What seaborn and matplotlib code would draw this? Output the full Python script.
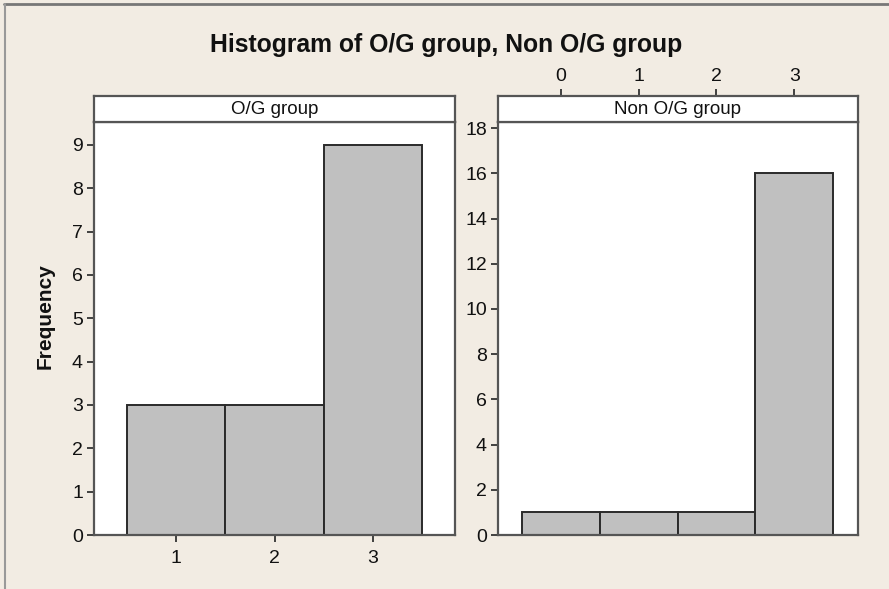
import matplotlib
matplotlib.use("Agg")
import matplotlib.pyplot as plt
import seaborn as sns
import numpy as np
import pandas as pd

# Observed scores for each group (one entry per subject)
og_scores = [1, 1, 1, 2, 2, 2, 3, 3, 3, 3, 3, 3, 3, 3, 3]
non_og_scores = [0, 1, 2] + [3] * 16

og_yticks = list(range(0, 10))
non_og_yticks = list(range(0, 19, 2))
og_xticks = [1, 2, 3]
non_og_xticks = [0, 1, 2, 3]

title = "Histogram of O/G group, Non O/G group"
panel_labels = ["O/G group", "Non O/G group"]

sns.set_theme(style="white")
plt.rcParams["font.family"] = ["Liberation Sans", "DejaVu Sans"]

BG = "#f2ece3"
BAR = "#c0c0c0"
EDGE = "#2a2a2a"
FRAME = "#555555"
TXT = "#111111"
FS = 14

W, H = 889, 589
fig = plt.figure(figsize=(W / 100, H / 100), dpi=100, facecolor=BG)


def box(x0, y0, x1, y1):
    return [x0 / W, 1 - y1 / H, (x1 - x0) / W, (y1 - y0) / H]


ax1 = fig.add_axes(box(94, 122, 455, 535))
ax2 = fig.add_axes(box(498, 122, 858, 535))
st1 = fig.add_axes(box(94, 96, 455, 122))
st2 = fig.add_axes(box(498, 96, 858, 122))

df1 = pd.DataFrame({"score": og_scores})
df2 = pd.DataFrame({"score": non_og_scores})

for ax, df in [(ax1, df1), (ax2, df2)]:
    sns.histplot(data=df, x="score", discrete=True, ax=ax, color=BAR,
                 edgecolor=EDGE, linewidth=1.4, alpha=1)
    ax.set_facecolor("white")
    ax.set_xlabel("")
    ax.set_ylabel("")
    for s in ax.spines.values():
        s.set_color(FRAME)
        s.set_linewidth(1.6)
    ax.tick_params(axis="both", which="both", left=True, bottom=True,
                   length=5, width=1.3, color="#333333", labelsize=FS,
                   labelcolor=TXT, direction="out", pad=3)

ax1.set_xlim(0.16, 3.84)
ax1.set_ylim(0, 9.53)
ax1.set_xticks(og_xticks)
ax1.set_yticks(og_yticks)
ax1.tick_params(axis="x", pad=6)

ax2.set_xlim(-0.81, 3.82)
ax2.set_ylim(0, 18.27)
ax2.set_yticks(non_og_yticks)
ax2.set_xticks([])

for st, lab, ref in [(st1, panel_labels[0], ax1), (st2, panel_labels[1], ax2)]:
    st.set_facecolor("white")
    st.set_xlim(ref.get_xlim())
    st.set_ylim(0, 1)
    st.set_yticks([])
    st.set_xticks([])
    for s in st.spines.values():
        s.set_color(FRAME)
        s.set_linewidth(1.6)
    st.text(0.5, 0.5, lab, transform=st.transAxes, ha="center", va="center",
            fontsize=13.5, color=TXT)

# Non O/G panel carries its x scale above the strip
st2.set_xticks(non_og_xticks)
st2.tick_params(axis="x", top=True, bottom=False, labeltop=True, labelbottom=False,
                length=5, width=1.3, color="#333333", labelsize=FS,
                labelcolor=TXT, direction="out", pad=3)

fig.text(45 / W, 1 - 316 / H, "Frequency", rotation=90, ha="center", va="center",
         fontsize=15, fontweight="bold", color=TXT)
fig.text(446 / W, 1 - 45 / H, title, ha="center", va="center",
         fontsize=17.8, fontweight="bold", color=TXT)

# Window frame along the top and left edges
fig.add_artist(plt.Line2D([4 / W, 1], [1 - 4 / H, 1 - 4 / H], transform=fig.transFigure,
                          color="#777777", linewidth=2))
fig.add_artist(plt.Line2D([5 / W, 5 / W], [0, 1 - 4 / H], transform=fig.transFigure,
                          color="#999999", linewidth=1.5))

fig.savefig("out.png", dpi=100, facecolor=BG)
